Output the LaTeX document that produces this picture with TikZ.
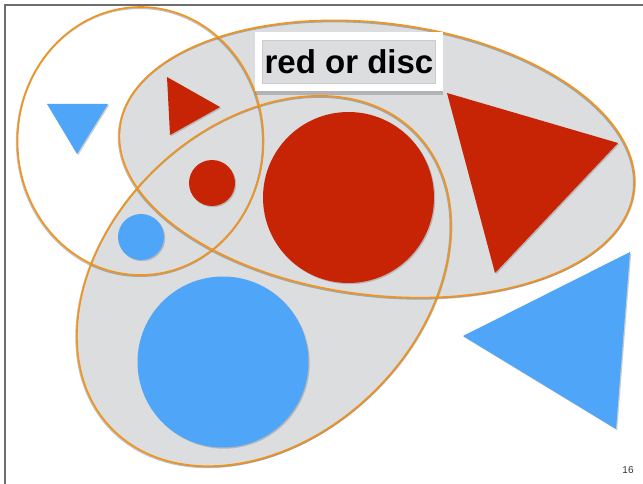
\documentclass[tikz,border=0pt]{standalone}
\usepackage{fontspec}
\setmainfont{Liberation Sans}
\usetikzlibrary{shadows}
\definecolor{setred}{HTML}{C72405}
\definecolor{setblue}{HTML}{4FA6F8}
\definecolor{setgrey}{HTML}{DCDDDF}
\definecolor{setedge}{HTML}{F39419}
\definecolor{framegrey}{HTML}{6E6E6E}

\begin{document}
\begin{tikzpicture}[x=1pt,y=-1pt,
  softshadow/.style={drop shadow={shadow xshift=1.2pt,shadow yshift=-1.2pt,opacity=0.4}},
  redpiece/.style={fill=setred,softshadow},
  bluepiece/.style={fill=setblue,softshadow},
  setfill/.style={fill=setgrey,softshadow},
  setrim/.style={draw=black,opacity=0.25,line width=2pt,shift={(-0.6,1)}},
  setline/.style={draw=setedge,line width=1.6pt}]
\useasboundingbox (0,0) rectangle (643,484);
\fill[white] (0,0) rectangle (643,484);
\draw[framegrey,line width=1.5pt] (5,484) -- (5,5) -- (643,5);
\fill[setfill,rotate around={-7:(377,159)}] (377,159) ellipse [x radius=259,y radius=136];
\fill[setfill,rotate around={44:(264,281)}] (264,281) ellipse [x radius=212,y radius=156];
\draw[setrim] (140.5,141) ellipse [x radius=123,y radius=134];
\draw[setrim,rotate around={-7:(377,159)}] (377,159) ellipse [x radius=259,y radius=136];
\draw[setrim,rotate around={44:(264,281)}] (264,281) ellipse [x radius=212,y radius=156];
\draw[setline] (140.5,141) ellipse [x radius=123,y radius=134];
\draw[setline,rotate around={-7:(377,159)}] (377,159) ellipse [x radius=259,y radius=136];
\draw[setline,rotate around={44:(264,281)}] (264,281) ellipse [x radius=212,y radius=156];
\fill[bluepiece] (47,104) -- (108,104) -- (77,154) -- cycle;
\fill[redpiece] (167,77) -- (220,107) -- (170,135) -- cycle;
\fill[redpiece] (212,183) circle [radius=23];
\fill[bluepiece] (141,237) circle [radius=23];
\fill[redpiece] (348.5,197.5) circle [radius=85.5];
\fill[bluepiece] (223,362) circle [radius=85.5];
\fill[redpiece] (447,93) -- (618,143) -- (495,273) -- cycle;
\fill[bluepiece] (630,252) -- (463,336) -- (616,429) -- cycle;
\node[fill=white,minimum width=188pt,minimum height=59pt,inner sep=0pt,
      drop shadow={shadow xshift=0pt,shadow yshift=-4pt,opacity=0.45}] (lblbox) at (349,61.5) {};
\node[fill=setgrey,draw=black!20,line width=0.6pt,minimum width=173pt,minimum height=43pt,inner sep=0pt,
      font=\fontsize{33}{33}\selectfont\bfseries] (lbl) at (lblbox.center) {red or disc};
\node[font=\fontsize{10}{12}\selectfont,text=black!80] (pagenum) at (628,470) {16};
\end{tikzpicture}
\end{document}
